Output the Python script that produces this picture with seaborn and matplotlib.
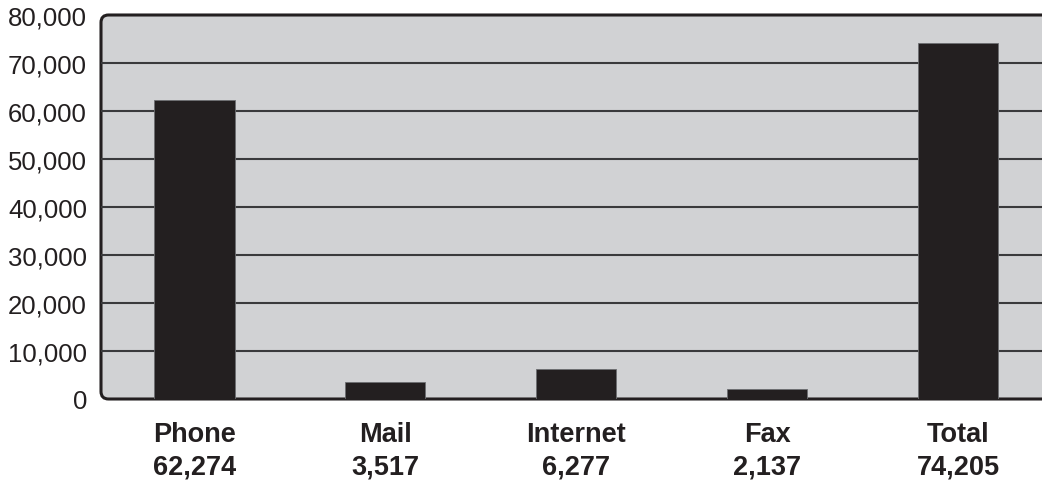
import matplotlib.pyplot as plt
from matplotlib.patches import FancyBboxPatch
from matplotlib.ticker import FuncFormatter
import pandas as pd
import seaborn as sns

channels = ['Phone', 'Mail', 'Internet', 'Fax', 'Total']
counts = [62274, 3517, 6277, 2137, 74205]
yticks = [0, 10000, 20000, 30000, 40000, 50000, 60000, 70000, 80000]

data = pd.DataFrame({'channel': channels, 'count': counts})

sns.set_style('white')
plt.rcParams['font.family'] = ['Liberation Sans', 'DejaVu Sans']

fig = plt.figure(figsize=(10.42, 4.85), dpi=100)
ax = fig.add_axes([101 / 1042, 85 / 485, 1 - 101 / 1042, 384 / 485])
ax.set_facecolor('none')

#gray panel with rounded left corners, sticking out past the right edge
panel = FancyBboxPatch((0, 0), 1.05, 1, boxstyle='round,pad=0,rounding_size=0.008',
                       mutation_aspect=941 / 384, transform=ax.transAxes,
                       facecolor='#d1d2d4', edgecolor='#231f20', linewidth=2.2,
                       clip_on=False, zorder=0)
ax.add_patch(panel)

sns.barplot(data=data, x='channel', y='count', color='#231f20', saturation=1,
            width=0.42, edgecolor='#6d6e71', linewidth=0.6, ax=ax, zorder=3)

ax.set_ylim(0, 80000)
ax.set_xlim(-0.49, 4.44)
ax.set_yticks(yticks)
ax.yaxis.set_major_formatter(FuncFormatter(lambda v, p: f'{int(v):,}'))
for v in yticks[1:-1]:
    ax.axhline(v, color='#3a3a3c', linewidth=1.5, zorder=1)

ax.set_xticks(range(len(channels)))
ax.set_xticklabels([f'{c}\n{n:,}' for c, n in zip(channels, counts)],
                   fontweight='bold', linespacing=1.3)
ax.tick_params(axis='x', length=0, pad=16, labelsize=19.5, colors='#231f20')
ax.tick_params(axis='y', length=0, pad=10, labelsize=18.5, colors='#231f20')
ax.set_xlabel('')
ax.set_ylabel('')
sns.despine(ax=ax, left=True, bottom=True, top=True, right=True)

fig.savefig('out.png', dpi=100)
